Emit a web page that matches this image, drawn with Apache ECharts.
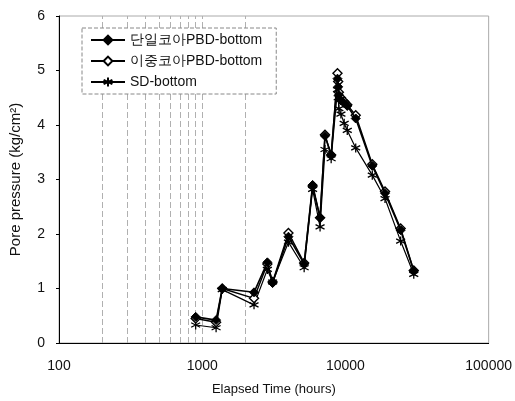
<!DOCTYPE html>
<html>
<head>
<meta charset="utf-8">
<script src="https://cdn.jsdelivr.net/npm/echarts@6/dist/echarts.min.js"></script>
<style>
  html, body { margin: 0; padding: 0; background: #fff; }
  #chart { width: 515px; height: 401px; }
</style>
</head>
<body>
<div id="chart"></div>
<script>
// Elapsed time (hours) of each reading
var times = [900, 1250, 1380, 2300, 2850, 3100, 4000, 5150, 5900, 6650, 7200, 7950,
             8800, 8900, 9000, 9300, 9800, 10300, 11800, 15400, 18900, 24300, 30000];

// Pore pressure (kg/cm2) at the bottom gauge of each section
var singleCorePBD = [0.48, 0.42, 1.00, 0.93, 1.48, 1.10, 1.95, 1.45, 2.90, 2.30, 3.80, 3.45,
                     4.85, 4.70, 4.55, 4.45, 4.40, 4.35, 4.12, 3.25, 2.75, 2.07, 1.32];
var doubleCorePBD = [0.45, 0.38, 1.00, 0.82, 1.45, 1.12, 2.02, 1.47, 2.88, 2.30, 3.82, 3.45,
                     4.95, 4.80, 4.60, 4.50, 4.43, 4.37, 4.18, 3.28, 2.78, 2.10, 1.33];
var sandDrain = [0.33, 0.28, 0.98, 0.70, 1.35, 1.12, 1.85, 1.38, 2.82, 2.13, 3.55, 3.38,
                 4.65, 4.50, 4.30, 4.20, 4.03, 3.90, 3.58, 3.08, 2.65, 1.87, 1.26];

var seriesNames = ['단일코아PBD-bottom', '이중코아PBD-bottom', 'SD-bottom'];

// Faint vertical reference lines in the first decades
var gridTimes = [200, 300, 400, 500, 600, 700, 800, 900, 1000, 2000];

function pairs(vals) {
  return times.map(function (t, i) { return [t, vals[i]]; });
}

var FONT = '"Liberation Sans", Arial, sans-serif';
var asterisk = 'path://M5,0L5,10M0.7,2.5L9.3,7.5M0.7,7.5L9.3,2.5';

var chart = echarts.init(document.getElementById('chart'), null, { renderer: 'canvas' });
chart.setOption({
  animation: false,
  backgroundColor: '#fff',
  grid: {
    left: 59, right: 25, top: 16, bottom: 58,
    show: true, borderColor: '#aaa', borderWidth: 1
  },
  legend: {
    orient: 'vertical',
    left: 82, top: 28,
    z: 20,
    itemWidth: 34, itemHeight: 11, itemGap: 7,
    padding: [5, 14, 5, 8],
    borderColor: '#888', borderWidth: 1, borderType: 'dashed',
    backgroundColor: '#fff',
    textStyle: { fontFamily: FONT, fontSize: 14, color: '#111' },
    data: seriesNames
  },
  xAxis: {
    type: 'log', logBase: 10, min: 100, max: 100000,
    name: 'Elapsed Time (hours)', nameLocation: 'middle', nameGap: 40,
    nameTextStyle: { fontFamily: FONT, fontSize: 13, color: '#111' },
    axisLine: { lineStyle: { color: '#000', width: 1 } },
    axisTick: { show: false },
    axisLabel: {
      fontFamily: FONT, fontSize: 14, color: '#111', margin: 16,
      formatter: function (v) { return String(Math.round(v)); }
    },
    splitLine: { show: false },
    minorTick: { show: false }, minorSplitLine: { show: false }
  },
  yAxis: {
    type: 'value', min: 0, max: 6, interval: 1,
    name: 'Pore pressure (kg/cm²)', nameLocation: 'middle', nameGap: 36,
    nameTextStyle: { fontFamily: FONT, fontSize: 15, color: '#111' },
    axisLine: { show: true, lineStyle: { color: '#000', width: 1 } },
    axisTick: { show: true, length: 3, lineStyle: { color: '#000' } },
    axisLabel: { fontFamily: FONT, fontSize: 14, color: '#111', margin: 14 },
    splitLine: { show: false }
  },
  series: [
    {
      name: seriesNames[2], type: 'line', data: pairs(sandDrain),
      symbol: asterisk, symbolSize: 9,
      lineStyle: { color: '#000', width: 1.2 },
      itemStyle: { color: '#000', borderColor: '#000', borderWidth: 1.3 },
      z: 2,
      markLine: {
        silent: true, symbol: 'none', label: { show: false },
        z: 1,
        lineStyle: { color: '#b0b0b0', width: 1, type: [6, 3] },
        data: gridTimes.map(function (t) { return { xAxis: t }; })
      }
    },
    {
      name: seriesNames[1], type: 'line', data: pairs(doubleCorePBD),
      symbol: 'diamond', symbolSize: 9,
      lineStyle: { color: '#000', width: 1.4 },
      itemStyle: { color: '#fff', borderColor: '#000', borderWidth: 1.4 },
      z: 3
    },
    {
      name: seriesNames[0], type: 'line', data: pairs(singleCorePBD),
      symbol: 'diamond', symbolSize: 9,
      lineStyle: { color: '#000', width: 1.6 },
      itemStyle: { color: '#000', borderColor: '#000', borderWidth: 1 },
      z: 4
    }
  ]
});
</script>
</body>
</html>
